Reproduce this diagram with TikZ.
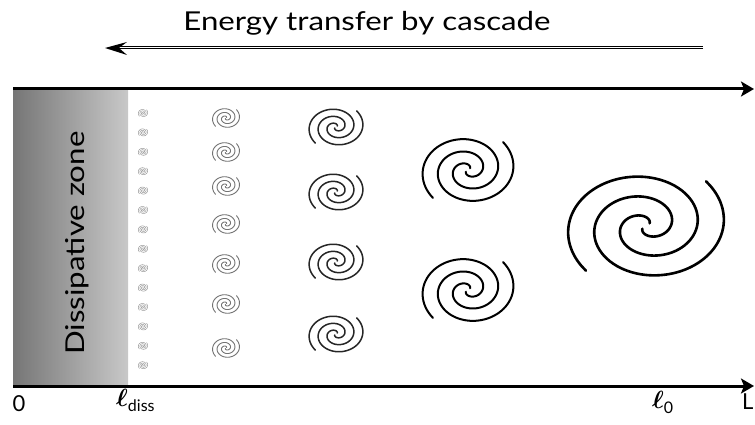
\documentclass[tikz,border=0pt]{standalone}
\usepackage{fontspec}
\usepackage{bm}
\setmainfont{Lato}
\usetikzlibrary{arrows.meta}
\definecolor{zonedark}{RGB}{118,118,118}
\definecolor{zonelight}{RGB}{200,200,200}
\tikzset{
  % two-armed spiral eddy, unit size, scaled by the caller
  pics/eddy/.style={code={
    \foreach \ph in {0,180}{
      \draw[rotate=\ph] plot[domain=0:1, samples=120, smooth]
        ({(0.06+0.94*\x)*cos(-45+(1-\x)*540)}, {(0.06+0.94*\x)*sin(-45+(1-\x)*540)});
    }
  }},
  axisline/.style={line width=3pt, -{Stealth[length=13pt,width=15pt,inset=3pt]}},
  eddyL/.style={line width=2.6pt, line cap=round, black},
  eddyM/.style={line width=2pt, line cap=round, black},
  eddyS/.style={line width=1.5pt, line cap=round, black!85},
  eddyXS/.style={line width=0.9pt, line cap=round, black!55},
  eddyXXS/.style={line width=0.5pt, line cap=round, black!40},
  lbl/.style={inner sep=0pt, font=\fontsize{22}{24}\selectfont},
  bigtext/.style={inner sep=0pt, font=\fontsize{26}{28}\selectfont},
}
\newcommand{\widetext}[1]{\scalebox{1.2}[1]{#1}}
\begin{document}
\begin{tikzpicture}[x=1pt,y=-1pt]
\useasboundingbox (0,0) rectangle (755,425);

% dissipative zone
\shade[left color=zonedark, right color=zonelight] (13,89) rectangle (128,386);
\node[bigtext, rotate=90] (zone) at (77,243) {\widetext{Dissipative zone}};

% axes
\coordinate (topL) at (13,89);
\coordinate (topR) at (754,89);
\coordinate (botL) at (13,386);
\coordinate (botR) at (754,386);
\draw[axisline] (topL) -- (topR);
\draw[axisline] (botL) -- (botR);

% cascade arrow
\node[bigtext] (title) at (367,23) {\widetext{Energy transfer by cascade}};
\coordinate (casR) at (703,47.5);
\coordinate (casL) at (118,47.5);
\coordinate (casTip) at (105,48);
\draw[line width=0.9pt, double, double distance=1.6pt] (casR) -- (casL);
\fill (casTip) -- (127,42) -- (119,48) -- (127,55) -- cycle;

% axis labels
\node[lbl] (zero) at (19,404) {0};
\node[inner sep=0pt, anchor=base west] (ldiss) at (116,406) {\fontsize{26}{28}\selectfont$\bm{\ell}$\fontsize{16}{18}\selectfont\raisebox{-5pt}{diss}};
\node[inner sep=0pt, anchor=base west] (lzero) at (652,408) {\fontsize{26}{28}\selectfont$\bm{\ell}$\fontsize{16}{18}\selectfont\raisebox{-5pt}{0}};
\node[lbl, anchor=west] (ell) at (742,402) {L};

% largest eddy
\pic[eddyL, xscale=84, yscale=64] (e1) at (646,226) {eddy};

% second generation
\foreach \yy in {170,290}
  \pic[eddyM, xscale=49, yscale=40] at (468,\yy) {eddy};

% third generation
\foreach \yy in {127,192,262,334}
  \pic[eddyS, xscale=29, yscale=23] at (336,\yy) {eddy};

% fourth generation
\foreach \yy in {118,152,186,224,264,304,348}
  \pic[eddyXS, xscale=14.5, yscale=12] at (226,\yy) {eddy};

% smallest eddies near the dissipative scale
\foreach \k in {0,...,13}
  \pic[eddyXXS, xscale=5, yscale=4.5] at (143,113+19.4*\k) {eddy};
\end{tikzpicture}
\end{document}
